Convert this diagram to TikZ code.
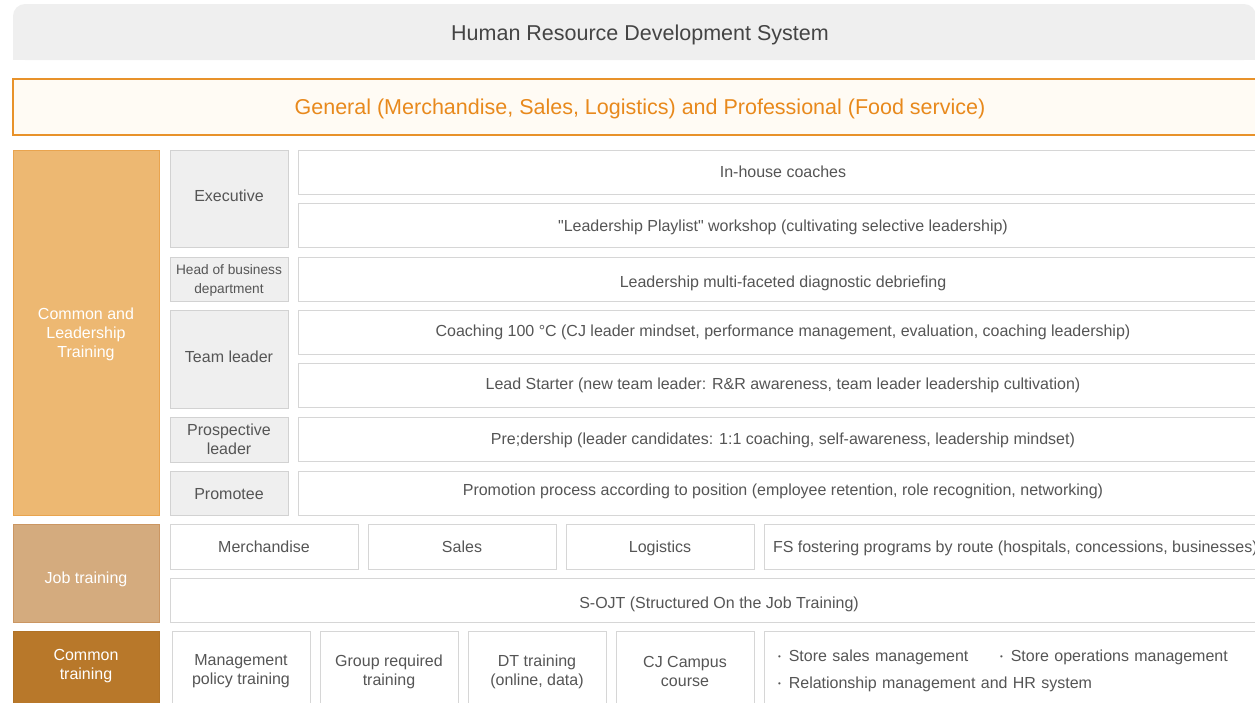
\documentclass[tikz,border=0pt]{standalone}
\usepackage{fontspec}
\setmainfont{Liberation Sans}
\usetikzlibrary{positioning}

\definecolor{hdrfill}{HTML}{EFEFEF}
\definecolor{hdrtext}{HTML}{444444}
\definecolor{scopefill}{HTML}{FFFBF4}
\definecolor{scopeline}{HTML}{E8922A}
\definecolor{scopetext}{HTML}{E8891C}
\definecolor{leadfill}{HTML}{EDB872}
\definecolor{leadline}{HTML}{E9A44E}
\definecolor{jobfill}{HTML}{D4AB7E}
\definecolor{jobline}{HTML}{CB9662}
\definecolor{cmnfill}{HTML}{B8782A}
\definecolor{cmnline}{HTML}{B07226}
\definecolor{lvlfill}{HTML}{EFEFEF}
\definecolor{lvlline}{HTML}{D2D2D2}
\definecolor{progline}{HTML}{D6D6D6}
\definecolor{bodytext}{HTML}{555555}

\newcommand{\fsz}[1]{\fontsize{#1}{19}\selectfont}
\newcommand{\dotitem}{{\fontsize{8}{8}\selectfont\raisebox{1.6pt}{•}}\hspace{8pt}}

\begin{document}
\begin{tikzpicture}[
    x=1pt, y=-1pt,
    box/.style     = {rectangle, outer sep=0pt, inner sep=0pt, line width=1pt,
                      anchor=north west, align=center},
    oneline/.style = {text height=15, text depth=2.5},
    cat/.style     = {box, text=white, font=\fsz{16}, minimum width=146},
    lvl/.style     = {box, draw=lvlline, fill=lvlfill, text=bodytext,
                      font=\fsz{16}, minimum width=118},
    prog/.style    = {box, draw=progline, fill=white, text=bodytext,
                      font=\fsz{16}},
    row/.style     = {prog, minimum width=970, minimum height=44.5}
]
    \useasboundingbox (0,0) rectangle (1255,702);
    \clip (0,0) rectangle (1255,702);

    %-- Title bar (rounded on top only) ---------------------------------------
    \fill[hdrfill, rounded corners=12] (13,4) rectangle (1256,60);
    \fill[hdrfill] (13,30) rectangle (1256,60);
    \node[text=hdrtext, font=\fontsize{21.5}{24}\selectfont, inner sep=0pt,
          text height=18, text depth=2.6] (title)
          at (640,33) {Human Resource Development System};

    %-- Scope band ------------------------------------------------------------
    \node[box, fill=scopefill, text=scopetext,
          font=\fontsize{21.5}{24}\selectfont, text height=18, text depth=2.6,
          minimum width=1254, minimum height=56,
          draw=scopeline, line width=1.1pt] (scope) at (13,79)
          {General (Merchandise, Sales, Logistics) and Professional (Food service)};

    %-- Categories (left column x=13) -----------------------------------------
    \node[cat, fill=leadfill, minimum height=365, text depth=-1.6, draw=leadline]
          (lead) at (13,150) {Common and\\Leadership\\Training};
    \node[cat, fill=jobfill, minimum height=98,
          text height=24, text depth=2.5, draw=jobline] (job) at (13,524) {Job training};
    \node[cat, fill=cmnfill, minimum height=75, text depth=7.4, draw=cmnline]
          (cmn) at (13,631) {Common\\training};

    %-- Target levels (x=170) -------------------------------------------------
    \node[lvl, minimum height=97, text height=9, text depth=2.5]
          (exec) at (170,150) {Executive};
    \node[lvl, minimum height=44, font=\fontsize{13.7}{19.5}\selectfont,
          text depth=-6] (head) at (170,257) {Head of business\\department};
    \node[lvl, minimum height=98, text height=10, text depth=2.5]
          (team) at (170,310) {Team leader};
    \node[lvl, minimum height=45] (prosp) at (170,417) {Prospective\\leader};
    \node[lvl, minimum height=44, text height=16, text depth=2.5]
          (promo) at (170,471) {Promotee};

    %-- Leadership programs (x=298); \hgt sets where the line sits -----------
    \foreach \nm/\y/\hgt/\txt in {
        inhouse/150/12/{In-house coaches},
        playlist/203/14/{\textquotedbl Leadership Playlist\textquotedbl\ workshop (cultivating selective leadership)},
        diag/257/18/{Leadership multi-faceted diagnostic debriefing},
        coach/310/10/{Coaching 100 °C (CJ leader mindset, performance management, evaluation, coaching leadership)},
        starter/363/10/{Lead Starter (new team leader: R\&R awareness, team leader leadership cultivation)},
        predership/417/12/{Pre;dership (leader candidates: 1:1 coaching, self-awareness, leadership mindset)},
        process/471/7/{Promotion process according to position (employee retention, role recognition, networking)}}{
        \node[row, text height=\hgt, text depth=2.5] (\nm) at (298,\y) {\txt};
    }

    %-- Job training ----------------------------------------------------------
    \foreach \nm/\x/\txt in {
        merch/170/Merchandise,
        sales/368/Sales,
        logis/566/Logistics}{
        \node[prog, oneline, minimum width=188, minimum height=45] (\nm) at (\x,524) {\txt};
    }
    \node[prog, oneline, minimum width=504, minimum height=45, inner xsep=9] (fs)
          at (764,524)
          {\makebox[486pt][l]{FS fostering programs by route (hospitals, concessions, businesses)}};
    \node[prog, minimum width=1098, minimum height=44.5,
          text height=18, text depth=2.5] (sojt) at (170,578)
          {S-OJT (Structured On the Job Training)};

    %-- Common training -------------------------------------------------------
    \foreach \nm/\x/\txt in {
        policy/172/{Management\\policy training},
        group/320/{Group required\\training},
        dt/468/{DT training\\(online, data)},
        campus/616/{CJ Campus\\course}}{
        \node[prog, minimum width=138, minimum height=81] (\nm) at (\x,631) {\txt};
    }
    \node[prog, minimum height=79, text width=476, inner xsep=14, align=left]
          (store) at (764,631)
          {\makebox[222pt][l]{\dotitem Store sales management}\dotitem Store operations management\\[8pt]
           \dotitem Relationship management and HR system};
\end{tikzpicture}
\end{document}
